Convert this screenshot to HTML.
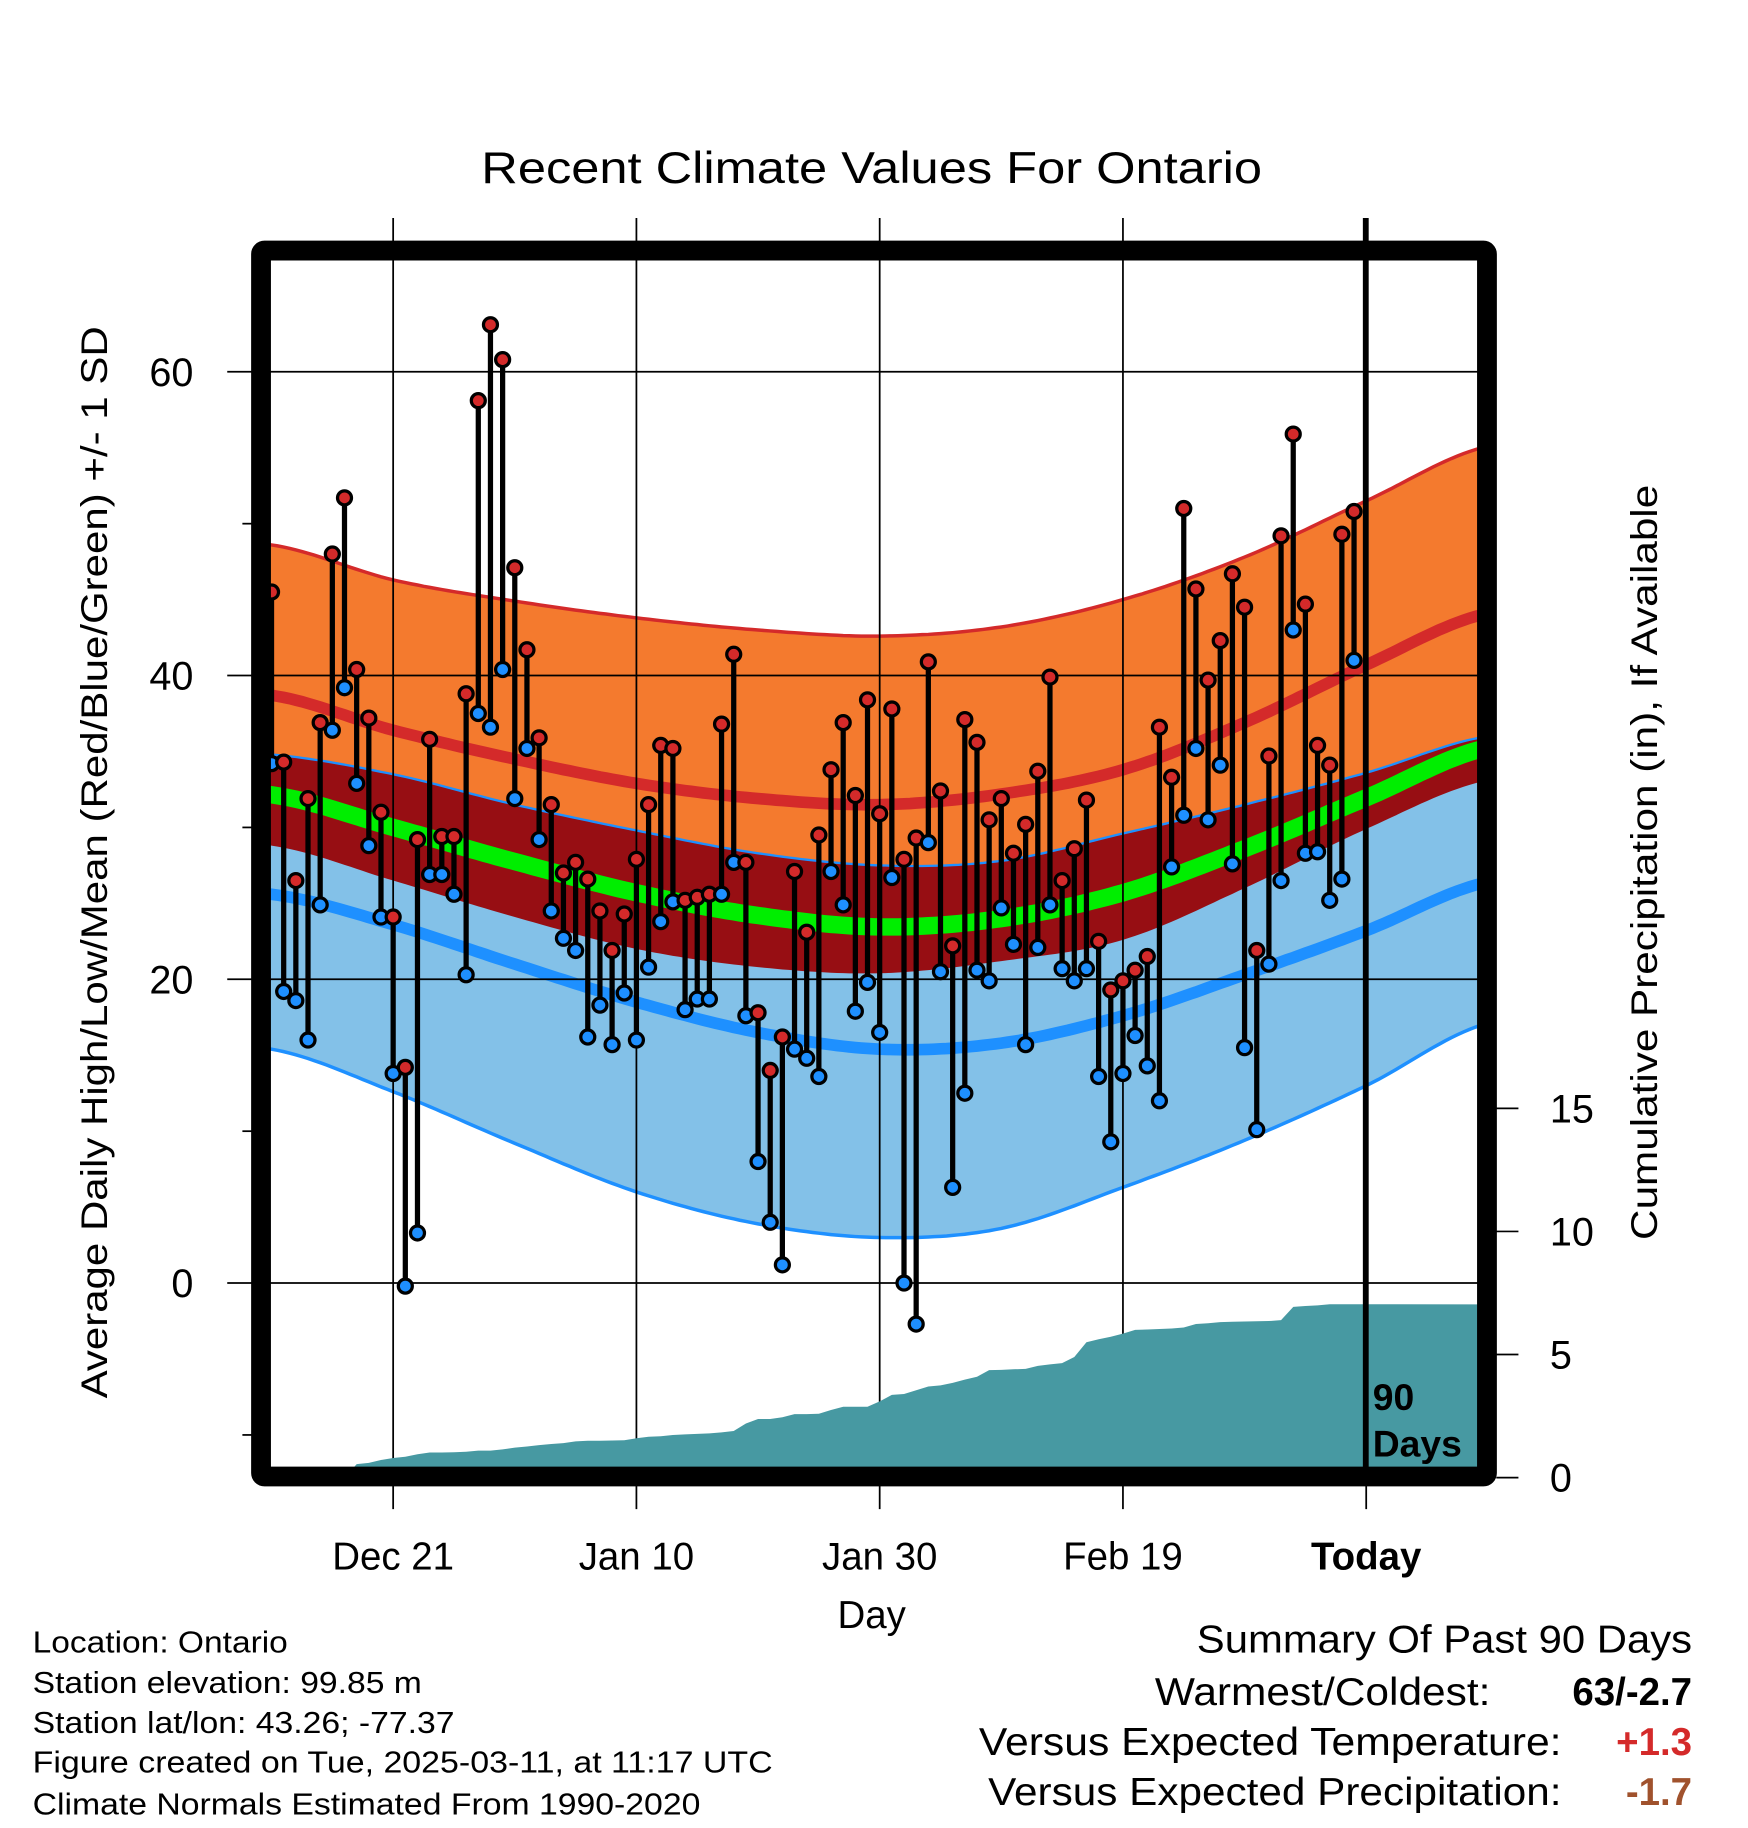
<!DOCTYPE html>
<html><head><meta charset="utf-8"><title>Recent Climate Values For Ontario</title>
<style>html,body{margin:0;padding:0;background:#fff}svg{display:block}text{font-family:"Liberation Sans",Arial,sans-serif}</style>
</head><body>
<svg id="chart" width="1748" height="1828" viewBox="0 0 1500 1568.6" xmlns="http://www.w3.org/2000/svg">
<defs><clipPath id="plotclip"><rect x="232" y="223" width="1036" height="1036"/></clipPath></defs>
<rect x="0" y="0" width="1500" height="1568.6" fill="#fff"/>
<text x="748" y="157" font-size="38" text-anchor="middle" textLength="670" lengthAdjust="spacingAndGlyphs">Recent Climate Values For Ontario</text>
<g id="bands" clip-path="url(#plotclip)"></g>
<g id="grid"></g>
<g id="precip" clip-path="url(#plotclip)"></g>
<g id="data"></g>
<line x1="1172" y1="187" x2="1172" y2="1262" stroke="#000" stroke-width="5"/>
<text x="1178" y="1210" font-size="32" font-weight="bold">90</text>
<text x="1178" y="1250" font-size="32" font-weight="bold">Days</text>
<rect x="224" y="215" width="1052" height="1052" fill="none" stroke="#000" stroke-width="17" rx="3"/>
<g id="axes"></g>
<text x="748" y="1397" font-size="33" text-anchor="middle">Day</text>
<text transform="translate(92,740) rotate(-90)" font-size="32" text-anchor="middle" textLength="920" lengthAdjust="spacingAndGlyphs">Average Daily High/Low/Mean (Red/Blue/Green) +/- 1 SD</text>
<text transform="translate(1422,740) rotate(-90)" font-size="32" text-anchor="middle" textLength="648" lengthAdjust="spacingAndGlyphs">Cumulative Precipitation (in), If Available</text>
<g font-size="26">
<text x="28" y="1418" textLength="219" lengthAdjust="spacingAndGlyphs">Location: Ontario</text>
<text x="28" y="1453" textLength="334" lengthAdjust="spacingAndGlyphs">Station elevation: 99.85 m</text>
<text x="28" y="1487" textLength="362" lengthAdjust="spacingAndGlyphs">Station lat/lon: 43.26; -77.37</text>
<text x="28" y="1521" textLength="635" lengthAdjust="spacingAndGlyphs">Figure created on Tue, 2025-03-11, at 11:17 UTC</text>
<text x="28" y="1557" textLength="573" lengthAdjust="spacingAndGlyphs">Climate Normals Estimated From 1990-2020</text>
</g>
<g font-size="33">
<text x="1452" y="1418" text-anchor="end" textLength="425" lengthAdjust="spacingAndGlyphs">Summary Of Past 90 Days</text>
<text x="1279" y="1463" text-anchor="end" textLength="288" lengthAdjust="spacingAndGlyphs">Warmest/Coldest:</text>
<text x="1452" y="1463" text-anchor="end" font-weight="bold">63/-2.7</text>
<text x="1340" y="1506" text-anchor="end" textLength="500" lengthAdjust="spacingAndGlyphs">Versus Expected Temperature:</text>
<text x="1452" y="1506" text-anchor="end" font-weight="bold" fill="#d42a2a">+1.3</text>
<text x="1340" y="1549" text-anchor="end" textLength="492" lengthAdjust="spacingAndGlyphs">Versus Expected Precipitation:</text>
<text x="1452" y="1549" text-anchor="end" font-weight="bold" fill="#a0522d">-1.7</text>
</g>
</svg>
<script>
// ---- data ----
const normDays = [0,10,20,30,40,50,60,70,80,90,100];
const highUpper = [48.6,46.3,44.9,43.8,43.0,42.6,43.2,45.0,47.8,51.5,55.1];
const normalHigh = [38.7,36.4,34.5,32.9,31.9,31.5,32.2,33.8,36.9,40.7,44.1];
const lowUpper = [34.8,33.5,31.5,29.8,28.3,27.5,27.8,29.6,31.5,33.6,36.0];
const normalLow = [25.6,23.6,21.0,18.5,16.5,15.4,15.8,17.6,20.3,23.2,26.4];
const lowLower = [15.4,12.6,9.2,6.0,3.9,3.0,3.6,6.3,9.4,13.0,17.1];
const dailyHigh = [45.5,34.3,26.5,31.9,36.9,48.0,51.7,40.4,37.2,31.0,24.1,14.2,29.2,35.8,29.4,29.4,38.8,58.1,63.1,60.8,47.1,41.7,35.9,31.5,27.0,27.7,26.6,24.5,21.9,24.3,27.9,31.5,35.4,35.2,25.2,25.4,25.6,36.8,41.4,27.7,17.8,14.0,16.2,27.1,23.1,29.5,33.8,36.9,32.1,38.4,30.9,37.8,27.9,29.3,40.9,32.4,22.2,37.1,35.6,30.5,31.9,28.3,30.2,33.7,39.9,26.5,28.6,31.8,22.5,19.3,19.9,20.6,21.5,36.6,33.3,51.0,45.7,39.7,42.3,46.7,44.5,21.9,34.7,49.2,55.9,44.7,35.4,34.1,49.3,50.8];
const dailyLow = [34.2,19.2,18.6,16.0,24.9,36.4,39.2,32.9,28.8,24.1,13.8,-0.2,3.3,26.9,26.9,25.6,20.3,37.5,36.6,40.4,31.9,35.2,29.2,24.5,22.7,21.9,16.2,18.3,15.7,19.1,16.0,20.8,23.8,25.1,18.0,18.7,18.7,25.6,27.7,17.6,8.0,4.0,1.2,15.4,14.8,13.6,27.1,24.9,17.9,19.8,16.5,26.7,0.0,-2.7,29.0,20.5,6.3,12.5,20.6,19.9,24.7,22.3,15.7,22.1,24.9,20.7,19.9,20.7,13.6,9.3,13.8,16.3,14.3,12.0,27.4,30.8,35.2,30.5,34.1,27.6,15.5,10.1,21.0,26.5,43.0,28.3,28.4,25.2,26.6,41.0];
const cumPrecip = [0,0,0,0,0,0,0,0.55,0.6,0.72,0.8,0.85,0.95,1.02,1.02,1.03,1.05,1.1,1.1,1.15,1.22,1.27,1.32,1.37,1.4,1.47,1.5,1.5,1.51,1.52,1.6,1.66,1.68,1.73,1.76,1.78,1.8,1.84,1.9,2.2,2.38,2.38,2.45,2.58,2.58,2.6,2.75,2.88,2.88,2.88,3.1,3.36,3.4,3.55,3.7,3.75,3.85,3.98,4.1,4.37,4.38,4.4,4.42,4.54,4.6,4.65,4.9,5.5,5.62,5.72,5.85,6.0,6.02,6.04,6.06,6.1,6.24,6.27,6.32,6.33,6.34,6.35,6.36,6.4,6.94,6.97,7.0,7.04,7.04,7.04];
const xTickDays = [10,30,50,70,90];
const xTickLabels = ["Dec 21","Jan 10","Jan 30","Feb 19","Today"];
const yTicks = [0,20,40,60];
const yMinorTicks = [-10,10,30,50];
const precipTicks = [0,5,10,15];

// ---- scales ----
const X = d => 233 + d*10.4375;
const Y = t => 1101 - t*13.033;
const P = v => 1268 - v*21.13;
const NS = "http://www.w3.org/2000/svg";
function mk(tag, attrs, parent){const e=document.createElementNS(NS,tag);for(const k in attrs)e.setAttribute(k,attrs[k]);parent.appendChild(e);return e;}

function crInterp(arr, d){
  const step = normDays[1]-normDays[0];
  let i = Math.floor((d-normDays[0])/step);
  i = Math.max(0, Math.min(arr.length-2, i));
  const t = (d - normDays[i])/step;
  const p0 = arr[Math.max(0,i-1)], p1 = arr[i], p2 = arr[i+1], p3 = arr[Math.min(arr.length-1,i+2)];
  return 0.5*((2*p1)+(-p0+p2)*t+(2*p0-5*p1+4*p2-p3)*t*t+(-p0+3*p1-3*p2+p3)*t*t*t);
}
const samp = [];
for(let d=-1; d<=101.001; d+=0.5) samp.push(d);
function linePts(fn){return samp.map(d=>X(d).toFixed(1)+","+Y(fn(d)).toFixed(1));}
function bandPath(fu, fl){
  const up = linePts(fu), lo = linePts(fl).reverse();
  return "M"+up.join("L")+"L"+lo.join("L")+"Z";
}
const hU = d=>crInterp(highUpper,d), nH = d=>crInterp(normalHigh,d);
const hL = d=>2*nH(d)-hU(d);
const lU = d=>crInterp(lowUpper,d), nL = d=>crInterp(normalLow,d), lL = d=>crInterp(lowLower,d);
const mean = d=>(nH(d)+nL(d))/2;

const bands = document.getElementById("bands");
let e;
e = mk("path",{d:bandPath(hU,hL),fill:"#f47a2e"},bands);


e = mk("path",{d:bandPath(lU,lL),fill:"#83c1e8"},bands);


e = mk("path",{d:bandPath(lU,hL),fill:"#970e13"},bands);


e = mk("polyline",{points:linePts(hU).join(" "),fill:"none",stroke:"#d42a2a","stroke-width":3},bands);


e = mk("polyline",{points:linePts(nH).join(" "),fill:"none",stroke:"#d42a2a","stroke-width":10},bands);


e = mk("polyline",{points:linePts(lU).join(" "),fill:"none",stroke:"#1e90ff","stroke-width":2},bands);


e = mk("polyline",{points:linePts(lL).join(" "),fill:"none",stroke:"#1e90ff","stroke-width":3},bands);


e = mk("polyline",{points:linePts(nL).join(" "),fill:"none",stroke:"#1e90ff","stroke-width":10},bands);


e = mk("polyline",{points:linePts(mean).join(" "),fill:"none",stroke:"#00ee00","stroke-width":15},bands);



// grid
const grid = document.getElementById("grid");
xTickDays.forEach((d,i)=>{
  const g = mk("line",{x1:X(d),x2:X(d),y1:187,y2:1295,stroke:"#000","stroke-width":1.5},grid);
  
  
});
yTicks.forEach(t=>{
  const g = mk("line",{x1:195,x2:1268,y1:Y(t),y2:Y(t),stroke:"#000","stroke-width":1.5},grid);
  
  
});

// precipitation
const precip = document.getElementById("precip");
let pd = "M"+X(0)+","+P(0);
cumPrecip.forEach((v,i)=>{ pd += "L"+X(i).toFixed(1)+","+P(v).toFixed(1); });
const last = cumPrecip[cumPrecip.length-1];
pd += "L"+X(101)+","+P(last)+"L"+X(101)+","+P(0)+"Z";
e = mk("path",{d:pd,fill:"#4799a2"},precip);



// daily data
const data = document.getElementById("data");
dailyHigh.forEach((h,i)=>{
  const l = dailyLow[i];
  const s = mk("line",{x1:X(i),x2:X(i),y1:Y(h),y2:Y(l),stroke:"#000","stroke-width":4.5},data);
  
  
});
dailyHigh.forEach((h,i)=>{
  const l = dailyLow[i];
  const c1 = mk("circle",{cx:X(i),cy:Y(l),r:6,fill:"#1e8fff",stroke:"#000","stroke-width":2.8},data);
  
  
  const c2 = mk("circle",{cx:X(i),cy:Y(h),r:6,fill:"#d42a2a",stroke:"#000","stroke-width":2.8},data);
  
  
});

// axes labels and ticks
const axes = document.getElementById("axes");
yTicks.forEach(t=>{
  const tx = mk("text",{x:166,y:Y(t)+12,"font-size":34,"text-anchor":"end"},axes);
  tx.textContent = t;
  
  
});
yMinorTicks.forEach(t=>{
  const m = mk("line",{x1:208,x2:216,y1:Y(t),y2:Y(t),stroke:"#000","stroke-width":1.5},axes);
  
  
});
xTickDays.forEach((d,i)=>{
  const tx = mk("text",{x:X(d),y:1347,"font-size":33,"text-anchor":"middle"},axes);
  if(xTickLabels[i]==="Today") tx.setAttribute("font-weight","bold");
  tx.textContent = xTickLabels[i];
  
  
});
precipTicks.forEach(v=>{
  const m = mk("line",{x1:1284,x2:1303,y1:P(v),y2:P(v),stroke:"#000","stroke-width":1.5},axes);
  
  
  const tx = mk("text",{x:1330,y:P(v)+12,"font-size":34},axes);
  tx.textContent = v;
  
  
});
</script>
</body></html>
